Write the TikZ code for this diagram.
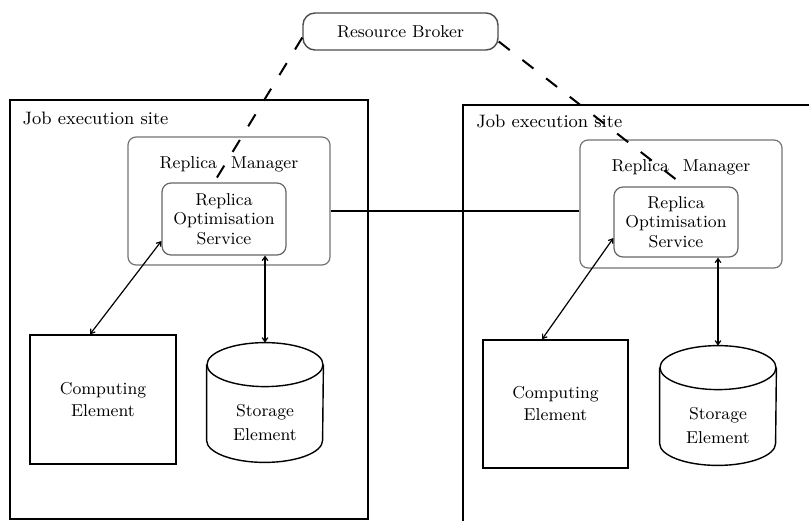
\documentclass[tikz,border=0pt]{standalone}
\usetikzlibrary{arrows.meta}
\tikzstyle{site}=[draw=black,line width=0.8pt,inner sep=0pt]
\tikzstyle{manager}=[draw=black!55,rounded corners=4pt,line width=0.6pt,inner sep=0pt]
\tikzstyle{service}=[draw=black!60,rounded corners=4.5pt,line width=0.6pt,inner sep=0pt,align=center,font=\fontsize{8.6}{9.75}\selectfont]
\tikzstyle{element}=[draw=black,line width=0.7pt,inner sep=0pt,align=center,font=\fontsize{8.6}{11}\selectfont]
\tikzstyle{store}=[inner sep=0pt,minimum width=58pt,minimum height=59.5pt]
\tikzstyle{storetext}=[inner sep=0pt,align=center,font=\fontsize{8.6}{12}\selectfont]
\tikzstyle{broker}=[draw=black!70,rounded corners=6pt,line width=0.7pt,inner sep=0pt,font=\fontsize{8.6}{10}\selectfont]
\tikzstyle{caption}=[inner sep=0pt,font=\fontsize{8.6}{10}\selectfont]
\tikzstyle{sitecaption}=[inner sep=0pt,anchor=north west,font=\fontsize{9}{11}\selectfont]
\tikzstyle{dashlink}=[line width=1pt,dash pattern=on 7pt off 8pt]
\tikzstyle{link}=[{Straight Barb[length=2pt,width=2.8pt]}-{Straight Barb[length=2pt,width=2.8pt]},line width=0.6pt]

% storage drum drawn round a store node
\newcommand{\drum}[1]{
	\draw[line width=0.7pt] ([yshift=-11pt]#1.north) ellipse [x radius=29pt,y radius=11pt];
	\draw[line width=0.7pt] ([yshift=-11pt]#1.north west) -- ([yshift=11pt]#1.south west)
		arc [start angle=180,end angle=360,x radius=29pt,y radius=11pt]
		-- ([yshift=-11pt]#1.north east);
}

\begin{document}
\begin{tikzpicture}[x=0.5pt,y=-0.5pt]
			\useasboundingbox (0,0) rectangle (809,521);
			
			\node (rb) at (400.5,31.5) [broker,minimum width=97.5pt,minimum height=18.5pt] {Resource Broker};
			
			% left site
			\node (lsite) at (189,309.5) [site,minimum width=179pt,minimum height=209.5pt] {};
			\node (lsitecap) at ([shift={(6.5pt,-6pt)}]lsite.north west) [sitecaption] {Job execution site};
			\node (lrm) at (229,201) [manager,minimum width=101pt,minimum height=64pt] {};
			\node (lrmcap) at ([yshift=-14pt]lrm.north) [caption] {Replica\hspace{7pt}Manager};
			\node (lros) at (224,219) [service,minimum width=62pt,minimum height=36pt] {Replica\\Optimisation\\Service};
			\node (lce) at (103,399.5) [element,minimum width=73pt,minimum height=64.5pt] {Computing\\Element};
			\node (lse) at (265,402.5) [store] {};
			\node (lsecap) at ([yshift=-10pt]lse.center) [storetext] {Storage\\Element};
			\drum{lse}
			
			% right site
			\coordinate (rsite) at (463,105);
			\draw[line width=0.8pt] (809,105) -- (rsite) -- (463,521);
			\node (rsitecap) at ([shift={(6.5pt,-5pt)}]rsite) [sitecaption] {Job execution site};
			\node (rrm) at (681,204) [manager,minimum width=101pt,minimum height=64pt] {};
			\node (rrmcap) at ([yshift=-14pt]rrm.north) [caption] {Replica\hspace{7pt}Manager};
			\node (rros) at (676,222) [service,minimum width=62pt,minimum height=35pt] {Replica\\Optimisation\\Service};
			\node (rce) at (555.5,404) [element,minimum width=72.5pt,minimum height=64pt] {Computing\\Element};
			\node (rse) at (718,405.5) [store] {};
			\node (rsecap) at ([yshift=-10pt]rse.center) [storetext] {Storage\\Element};
			\drum{rse}
			
			\draw[line width=0.7pt] ([yshift=-5pt]lrm.east) -- ([yshift=-5pt]lrm.east -| rrm.west);
			
			\draw[dashlink] ([yshift=-3pt]rb.west) -- ([xshift=-5pt]lros.north);
			\draw[dashlink] ([yshift=-5pt]rb.east) -- ([xshift=4.5pt]rros.north);
			
			\draw[link] ([yshift=-11pt]lros.west) -- ([xshift=-6.5pt]lce.north);
			\draw[link] (lros.south -| lse.north) -- (lse.north);
			\draw[link] ([yshift=-8pt]rros.west) -- ([xshift=-6.75pt]rce.north);
			\draw[link] (rros.south -| rse.north) -- (rse.north);
		\end{tikzpicture}
\end{document}
